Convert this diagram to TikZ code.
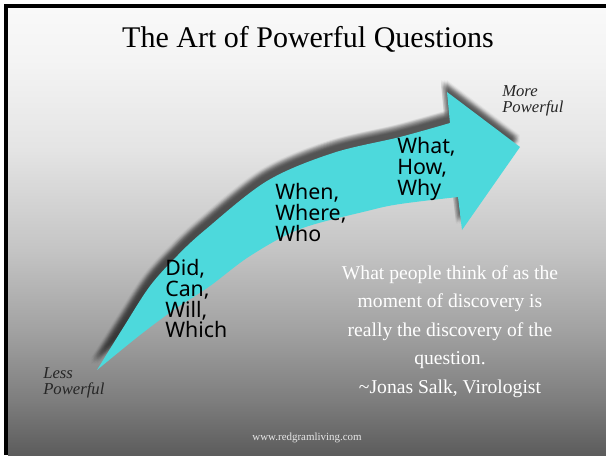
\documentclass[tikz,border=0pt]{standalone}
\usepackage{fontspec}
\setmainfont{Liberation Serif}
\newfontfamily\handfont{Noto Sans}
\definecolor{arrowcyan}{RGB}{77,217,220}
\definecolor{bga}{HTML}{F9F9F9}
\definecolor{bgb}{HTML}{F4F4F4}
\definecolor{bgc}{HTML}{E4E4E4}
\definecolor{bgd}{HTML}{C4C4C4}
\definecolor{bge}{HTML}{A2A2A2}
\definecolor{bgf}{HTML}{7E7E7E}
\definecolor{bgg}{HTML}{5C5C5C}
\definecolor{footgray}{HTML}{E8E8E8}
\pgfdeclareverticalshading{bgshade}{100bp}{color(0bp)=(bgg); color(25bp)=(bgg); color(31.2bp)=(bgf); color(39bp)=(bge); color(47.9bp)=(bgd); color(59.1bp)=(bgc); color(69.2bp)=(bgb); color(75bp)=(bga); color(100bp)=(bga)}
\tikzset{
  arrowpath/.style={insert path={
    plot[smooth, tension=0.55] coordinates {(97,370) (123,328) (150,286) (177,256) (205,230) (267,181) (333,153) (400,137) (450,123)}
    -- (447,92) -- (520,147) -- (462,230) -- (458,197)
    -- plot[smooth, tension=0.55] coordinates {(458,197) (400,204) (367,211) (300,229) (250,256) (210,286) (175,309) (140,335) (97,370)}
    -- cycle}},
  handlabel/.style={anchor=north west, inner sep=0pt, align=left, font=\handfont\fontsize{16}{15.6}\selectfont, text=black},
  endlabel/.style={anchor=north west, inner sep=0pt, align=left, font=\itshape\fontsize{12.5}{12.2}\selectfont, text=black!85}
}
\begin{document}
\begin{tikzpicture}[x=0.75pt,y=-0.75pt]
\useasboundingbox (0,0) rectangle (606,455);
\fill[white] (0,0) rectangle (606,455);
\shade[shading=bgshade] (8,8) rectangle (606,455);
\fill[black] (4,4) rectangle (606,8);
\fill[black] (4,4) rectangle (8,455);
% soft shadow
\foreach \dx in {-6,-4.5,-3,-1.5,0} {
  \foreach \dy in {-12,-10.5,-9,-7.5,-6} {
    \fill[black, opacity=0.034, shift={(\dx,\dy)}] [arrowpath];
  }
}
% arrow
\fill[arrowcyan] [arrowpath];
% title
\node[anchor=base, inner sep=0pt, font=\fontsize{22.5}{27}\selectfont] (title) at (308,47) {The Art of Powerful Questions};
% labels on the arrow
\node[handlabel] (g1) at (165,259) {Did,\\Can,\\Will,\\Which};
\node[handlabel] (g2) at (275,183) {When,\\Where,\\Who};
\node[handlabel] (g3) at (397,137) {What,\\How,\\Why};
% ends
\node[endlabel] (more) at (502,85) {More\\Powerful};
\node[endlabel] (less) at (43,367) {Less\\Powerful};
% quote
\node[anchor=north, inner sep=0pt, align=center, text=white, font=\fontsize{14.7}{21.4}\selectfont] (quote) at (450,265)
  {What people think of as the\\moment of discovery is\\really the discovery of the\\question.\\\textasciitilde Jonas Salk, Virologist};
% footer
\node[anchor=base, inner sep=0pt, text=footgray, font=\fontsize{8.2}{10}\selectfont] (foot) at (307,440) {www.redgramliving.com};
\end{tikzpicture}
\end{document}
